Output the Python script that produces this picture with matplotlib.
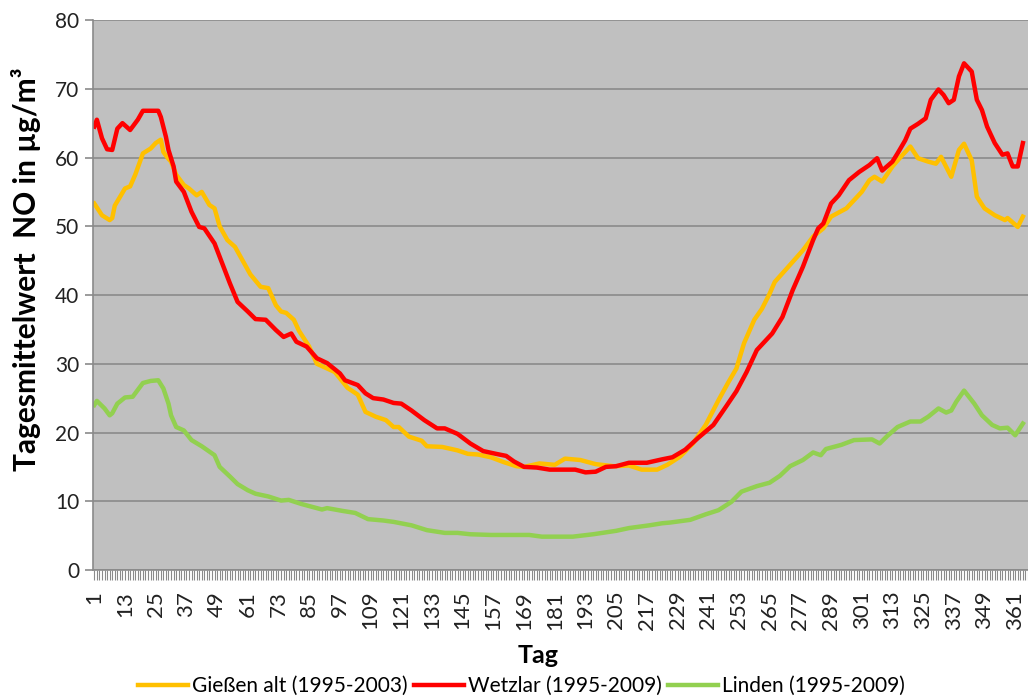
import matplotlib
matplotlib.use("Agg")
import matplotlib.pyplot as plt

plt.rcParams['font.family'] = ['Lato', 'DejaVu Sans']

# Gießen alt (1995-2003)
giessen_days = [1, 4, 7, 8, 9, 13, 15, 17, 20, 23, 25, 27, 28, 30, 31, 33, 36, 38, 41, 43,
                46, 48, 50, 53, 56, 59, 62, 66, 69, 72, 74, 76, 79, 81, 85, 88, 95, 100, 104, 107,
                111, 115, 118, 120, 124, 129, 131, 137, 143, 147, 151, 156, 161, 166, 169, 175,
                181, 185, 191, 197, 204, 210, 215, 221, 225, 230, 235, 240, 245, 249, 252, 255,
                259, 262, 265, 267, 273, 278, 282, 286, 289, 295, 298, 301, 304, 306, 309, 313,
                317, 320, 323, 327, 330, 332, 336, 339, 341, 344, 346, 349, 353, 357, 358, 362, 364]
giessen_vals = [53.3, 51.6, 50.9, 51.2, 53.0, 55.5, 55.8, 57.5, 60.6, 61.3, 62.1, 62.6, 60.8,
                59.8, 59.4, 57.5, 56.0, 55.5, 54.5, 55.0, 53.1, 52.6, 50.0, 48.0, 47.0, 45.0,
                43.0, 41.2, 41.0, 38.5, 37.6, 37.4, 36.4, 34.8, 32.5, 30.0, 28.8, 26.5, 25.5,
                23.0, 22.3, 21.8, 20.8, 20.8, 19.4, 18.8, 18.0, 17.9, 17.4, 16.9, 16.8, 16.4,
                15.7, 15.1, 15.0, 15.5, 15.3, 16.2, 16.0, 15.4, 15.1, 15.2, 14.6, 14.6, 15.3,
                16.5, 18.4, 21.1, 24.7, 27.4, 29.3, 33.0, 36.4, 38.0, 40.2, 41.9, 44.4, 46.5,
                48.5, 49.7, 51.4, 52.6, 53.8, 55.0, 56.7, 57.2, 56.5, 58.7, 60.4, 61.6, 59.9,
                59.4, 59.1, 60.1, 57.2, 61.1, 62.0, 59.6, 54.3, 52.6, 51.6, 50.9, 51.2, 49.9, 51.4]

# Wetzlar (1995-2009)
wetzlar_days = [1, 2, 4, 6, 8, 10, 12, 15, 18, 20, 26, 27, 29, 30, 32, 33, 36, 39, 42, 44,
                48, 51, 54, 57, 61, 64, 68, 72, 75, 78, 80, 84, 88, 92, 97, 99, 104, 107, 110,
                114, 118, 121, 125, 130, 135, 138, 143, 148, 153, 158, 162, 165, 169, 174, 179,
                189, 193, 197, 201, 205, 210, 217, 223, 227, 232, 237, 243, 248, 252, 256, 260,
                266, 270, 274, 278, 282, 284, 286, 289, 292, 296, 300, 304, 307, 309, 313, 315,
                318, 320, 323, 326, 328, 331, 333, 335, 337, 339, 341, 344, 346, 348, 350, 353,
                356, 358, 360, 362, 364]
wetzlar_vals = [64.5, 65.5, 62.8, 61.2, 61.1, 64.2, 65.0, 64.0, 65.5, 66.8, 66.8, 65.9, 63.0,
                61.1, 58.7, 56.5, 55.0, 52.1, 49.9, 49.7, 47.5, 44.6, 41.7, 39.0, 37.6, 36.5,
                36.4, 34.9, 33.9, 34.4, 33.2, 32.5, 30.8, 30.1, 28.6, 27.6, 26.9, 25.7, 25.0,
                24.8, 24.3, 24.2, 23.2, 21.8, 20.6, 20.6, 19.8, 18.4, 17.3, 16.9, 16.6, 15.8,
                15.0, 14.9, 14.6, 14.6, 14.2, 14.3, 15.0, 15.1, 15.6, 15.6, 16.1, 16.4, 17.5,
                19.2, 21.1, 23.8, 26.0, 28.8, 32.0, 34.4, 36.8, 40.7, 44.1, 48.0, 49.7, 50.4,
                53.3, 54.5, 56.7, 57.9, 58.9, 59.9, 58.1, 59.4, 60.6, 62.5, 64.2, 64.9, 65.7,
                68.4, 69.9, 69.1, 67.9, 68.4, 71.8, 73.7, 72.5, 68.4, 66.9, 64.5, 62.1, 60.4,
                60.6, 58.7, 58.7, 62.1]

# Linden (1995-2009)
linden_days = [1, 2, 5, 7, 8, 10, 13, 16, 20, 23, 26, 28, 30, 31, 33, 36, 39, 43, 48, 50,
               54, 57, 61, 64, 69, 74, 77, 82, 90, 92, 98, 103, 108, 114, 118, 125, 131, 138,
               143, 148, 156, 166, 171, 176, 188, 196, 205, 210, 218, 223, 226, 234, 240, 245,
               250, 254, 260, 265, 269, 273, 278, 282, 285, 287, 293, 298, 305, 308, 311, 315,
               320, 324, 327, 331, 334, 336, 338, 341, 345, 348, 352, 355, 358, 361, 364]
linden_vals = [24.0, 24.6, 23.5, 22.5, 22.8, 24.2, 25.1, 25.2, 27.2, 27.5, 27.6, 26.4, 24.2,
               22.5, 20.8, 20.3, 18.9, 18.0, 16.7, 15.0, 13.6, 12.5, 11.6, 11.1, 10.7, 10.1,
               10.2, 9.6, 8.8, 9.0, 8.6, 8.3, 7.4, 7.2, 7.0, 6.5, 5.8, 5.4, 5.4, 5.2, 5.1, 5.1,
               5.1, 4.85, 4.85, 5.2, 5.7, 6.1, 6.5, 6.8, 6.9, 7.3, 8.1, 8.7, 9.9, 11.4, 12.2,
               12.7, 13.7, 15.1, 16.0, 17.1, 16.7, 17.6, 18.2, 18.9, 19.0, 18.4, 19.5, 20.8,
               21.6, 21.6, 22.3, 23.5, 22.9, 23.2, 24.5, 26.1, 24.2, 22.5, 21.1, 20.6, 20.7,
               19.6, 21.3]

xtick_days = list(range(1, 367, 12))

fig = plt.figure(figsize=(10.28, 7.0), dpi=100)
ax = fig.add_axes([0.0905, 0.1857, 0.9095, 0.7857])
ax.set_facecolor('#c0c0c0')

ax.plot(giessen_days, giessen_vals, color='#ffc000', lw=3.2, label='Gießen alt (1995-2003)')
ax.plot(wetzlar_days, wetzlar_vals, color='#ff0000', lw=3.2, label='Wetzlar (1995-2009)')
ax.plot(linden_days, linden_vals, color='#92d050', lw=3.2, label='Linden (1995-2009)')

ax.set_ylim(0, 80)
ax.set_xlim(0.5, 363.7)
ax.set_yticks(range(0, 81, 10))
ax.yaxis.grid(True, color='#8a8a8a', lw=1.2)
ax.set_axisbelow(True)

ax.set_xticks(xtick_days)
ax.set_xticklabels([str(d) for d in xtick_days], rotation=90)
ax.set_xticks(range(1, 367), minor=True)

for s in ['top', 'right']:
    ax.spines[s].set_visible(False)
for s in ['left', 'bottom']:
    ax.spines[s].set_color('#8a8a8a')
    ax.spines[s].set_linewidth(1.2)

ax.tick_params(axis='x', which='both', direction='out', length=7, width=0.8,
               color='#8a8a8a', labelsize=16, pad=8, labelcolor='#222222')
ax.tick_params(axis='y', direction='out', length=6, width=1.2, color='#8a8a8a',
               labelsize=15, pad=4, labelcolor='#222222')

ax.set_ylabel('Tagesmittelwert  NO in µg/m³', fontsize=21.5, fontweight='bold')
ax.yaxis.set_label_coords(-0.056, 0.547)
ax.set_xlabel('Tag', fontsize=18, fontweight='bold')
ax.xaxis.set_label_coords(0.476, -0.134)

fig.legend(loc='center', bbox_to_anchor=(0.507, 0.02), ncol=3, frameon=False,
           fontsize=15, handlelength=2.4, handletextpad=0.2, columnspacing=0.3)

fig.savefig('out.png', dpi=100)
